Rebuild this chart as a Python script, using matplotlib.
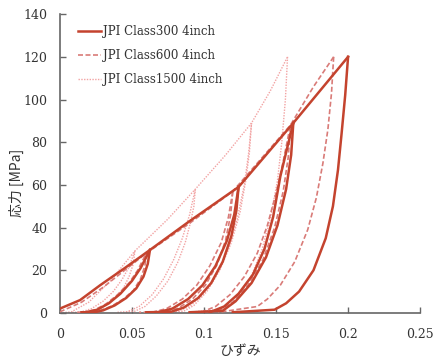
import matplotlib.pyplot as plt
from matplotlib.ticker import FixedLocator


#========= Data =========
labels = ["JPI Class300 4inch", "JPI Class600 4inch", "JPI Class1500 4inch"]

# Class300 (solid)
c300_env_x = [0, 0.014, 0.028, 0.045, 0.0625, 0.09, 0.124, 0.162, 0.2]
c300_env_y = [2, 6, 13, 21, 29.5, 43, 59, 89, 120]
c300_unload_x = [
    [0.0625, 0.061, 0.058, 0.053, 0.046, 0.038, 0.030, 0.024, 0.015],
    [0.124, 0.1225, 0.119, 0.113, 0.105, 0.096, 0.086, 0.077, 0.06],
    [0.162, 0.1605, 0.157, 0.151, 0.143, 0.133, 0.122, 0.113, 0.09],
    [0.2, 0.198, 0.1955, 0.193, 0.1895, 0.1845, 0.176, 0.166, 0.157, 0.149, 0.12],
]
c300_unload_y = [
    [29.5, 23, 17, 11.5, 7, 3.5, 1.2, 0.3, 0.3],
    [59, 48, 36, 24, 14, 7, 2.5, 0.5, 0.3],
    [89, 74, 58, 41, 26, 14, 5.5, 1, 0.3],
    [120, 102, 84, 67, 50, 35, 20, 10, 4.5, 1.5, 0.3],
]
c300_reload_x = [
    [0.018, 0.026, 0.034, 0.042, 0.050, 0.056, 0.0625],
    [0.068, 0.078, 0.089, 0.099, 0.108, 0.116, 0.121, 0.124],
    [0.104, 0.114, 0.124, 0.134, 0.142, 0.148, 0.153, 0.158, 0.162],
]
c300_reload_y = [
    [0.3, 1.5, 4.5, 9, 15, 21, 29.5],
    [0.3, 2, 6.5, 13, 22, 34, 46, 59],
    [0.3, 3, 9, 18, 30, 45, 64, 78, 89],
]

# Class600 (dashed)
c600_env_x = [0, 0.015, 0.03, 0.045, 0.06, 0.09, 0.12, 0.16, 0.176, 0.19]
c600_env_y = [0.5, 5, 12, 20, 28, 42, 57, 88, 106, 120]
c600_unload_x = [
    [0.06, 0.059, 0.056, 0.051, 0.044, 0.036, 0.028, 0.022, 0.012],
    [0.12, 0.1185, 0.115, 0.109, 0.101, 0.092, 0.082, 0.073, 0.055],
    [0.16, 0.1585, 0.155, 0.149, 0.141, 0.131, 0.12, 0.11, 0.09],
    [0.19, 0.1885, 0.186, 0.1825, 0.178, 0.172, 0.163, 0.153, 0.144, 0.137, 0.11],
]
c600_unload_y = [
    [28, 22, 16, 10.5, 6.5, 3.2, 1.1, 0.3, 0.3],
    [57, 46, 34, 22.5, 13, 6.5, 2.2, 0.5, 0.3],
    [88, 73, 57, 40, 25, 13.5, 5, 1, 0.3],
    [120, 103, 86, 70, 54, 39, 24, 13, 6.5, 3, 0.3],
]
c600_reload_x = [
    [0.016, 0.024, 0.032, 0.040, 0.048, 0.054, 0.06],
    [0.064, 0.074, 0.085, 0.095, 0.104, 0.112, 0.117, 0.12],
    [0.098, 0.108, 0.118, 0.128, 0.137, 0.144, 0.15, 0.155, 0.16],
]
c600_reload_y = [
    [0.3, 1.4, 4.2, 8.5, 14, 20, 28],
    [0.3, 2, 6.5, 13, 22, 33, 45, 57],
    [0.3, 3, 8.5, 17, 28, 41, 56, 71, 88],
]

# Class1500 (dotted)
c1500_env_x = [0, 0.008, 0.02, 0.035, 0.052, 0.075, 0.094, 0.115, 0.133, 0.146, 0.158]
c1500_env_y = [0, 0.5, 5, 15, 29, 44, 58, 74, 89, 104, 120]
c1500_unload_x = [
    [0.052, 0.051, 0.048, 0.044, 0.038, 0.031, 0.024, 0.018, 0.008],
    [0.094, 0.093, 0.0905, 0.087, 0.082, 0.075, 0.067, 0.059, 0.052, 0.04],
    [0.133, 0.1315, 0.129, 0.125, 0.119, 0.111, 0.102, 0.093, 0.086, 0.07],
    [0.158, 0.1565, 0.154, 0.151, 0.146, 0.14, 0.132, 0.123, 0.115, 0.09],
]
c1500_unload_y = [
    [29, 23, 17, 11.5, 7, 3.5, 1.2, 0.3, 0.3],
    [58, 50, 42, 33, 24, 15, 8, 3, 0.8, 0.3],
    [89, 75, 62, 47, 33, 20, 10, 3.5, 0.8, 0.3],
    [120, 100, 80, 62, 44, 29, 16, 7, 2, 0.3],
]
c1500_reload_x = [
    [0.014, 0.022, 0.03, 0.037, 0.043, 0.048, 0.052],
    [0.046, 0.055, 0.064, 0.072, 0.079, 0.085, 0.09, 0.094],
    [0.08, 0.09, 0.1, 0.109, 0.117, 0.123, 0.128, 0.131, 0.133],
]
c1500_reload_y = [
    [0.3, 2, 5.5, 10, 15.5, 21.5, 29],
    [0.3, 3, 8.5, 16, 25, 35, 46, 58],
    [0.3, 3, 9, 18, 30, 44, 60, 75, 89],
]

x_ticks = [0, 0.05, 0.1, 0.15, 0.2, 0.25]
x_tick_labels = ["0", "0.05", "0.1", "0.15", "0.2", "0.25"]
y_ticks = [0, 20, 40, 60, 80, 100, 120, 140]


#========= Plot helper =========
def draw_series(ax, env_x, env_y, un_x, un_y, re_x, re_y, label, **style):
    ax.plot(env_x, env_y, label=label, **style)
    for xs, ys in zip(un_x, un_y):
        ax.plot(xs, ys, **style)
    for xs, ys in zip(re_x, re_y):
        ax.plot(xs, ys, **style)


#========= Main =========
if __name__ == "__main__":
    plt.rcParams["font.family"] = ["DejaVu Serif"]

    fig = plt.figure(figsize=(4.34, 3.63), dpi=100)
    ax = fig.add_axes([0.138, 0.138, 0.830, 0.823])

    draw_series(ax, c1500_env_x, c1500_env_y, c1500_unload_x, c1500_unload_y,
                c1500_reload_x, c1500_reload_y, labels[2],
                color="#f2a3a3", linestyle=(0, (1, 1)), linewidth=1.0, zorder=2)
    draw_series(ax, c600_env_x, c600_env_y, c600_unload_x, c600_unload_y,
                c600_reload_x, c600_reload_y, labels[1],
                color="#d97b78", linestyle=(0, (3, 1.5)), linewidth=1.2, zorder=3)
    draw_series(ax, c300_env_x, c300_env_y, c300_unload_x, c300_unload_y,
                c300_reload_x, c300_reload_y, labels[0],
                color="#c4432e", linestyle="-", linewidth=1.8, zorder=4)

    ax.set_xlim(0, 0.25)
    ax.set_ylim(0, 140)
    ax.xaxis.set_major_locator(FixedLocator(x_ticks))
    ax.set_xticklabels(x_tick_labels)
    ax.yaxis.set_major_locator(FixedLocator(y_ticks))

    for side in ["top", "right"]:
        ax.spines[side].set_visible(False)
    for side in ["left", "bottom"]:
        ax.spines[side].set_color("#666666")
        ax.spines[side].set_linewidth(1.2)
    ax.tick_params(direction="in", length=4, width=1.0, color="#666666",
                   labelsize=9, labelcolor="#333333")
    ax.tick_params(axis="y", pad=9)
    ax.tick_params(axis="x", pad=11)

    ax.set_xlabel("ひずみ", family=["Noto Sans CJK JP"], fontsize=10, color="#333333")
    ax.set_ylabel("応力 [MPa]", family=["Noto Sans CJK JP"], fontsize=10, color="#333333")
    ax.xaxis.set_label_coords(0.5, -0.105)
    ax.yaxis.set_label_coords(-0.1, 0.435)

    # legend order: Class300, Class600, Class1500
    handles, labs = ax.get_legend_handles_labels()
    order = [labs.index(l) for l in labels]
    ax.legend([handles[i] for i in order], [labs[i] for i in order],
              loc="upper left", bbox_to_anchor=(0.02, 1.0), frameon=False,
              fontsize=8.5, handlelength=2.0, handletextpad=0.1,
              labelspacing=0.95, labelcolor="#333333")

    plt.savefig("out.png", dpi=100)
